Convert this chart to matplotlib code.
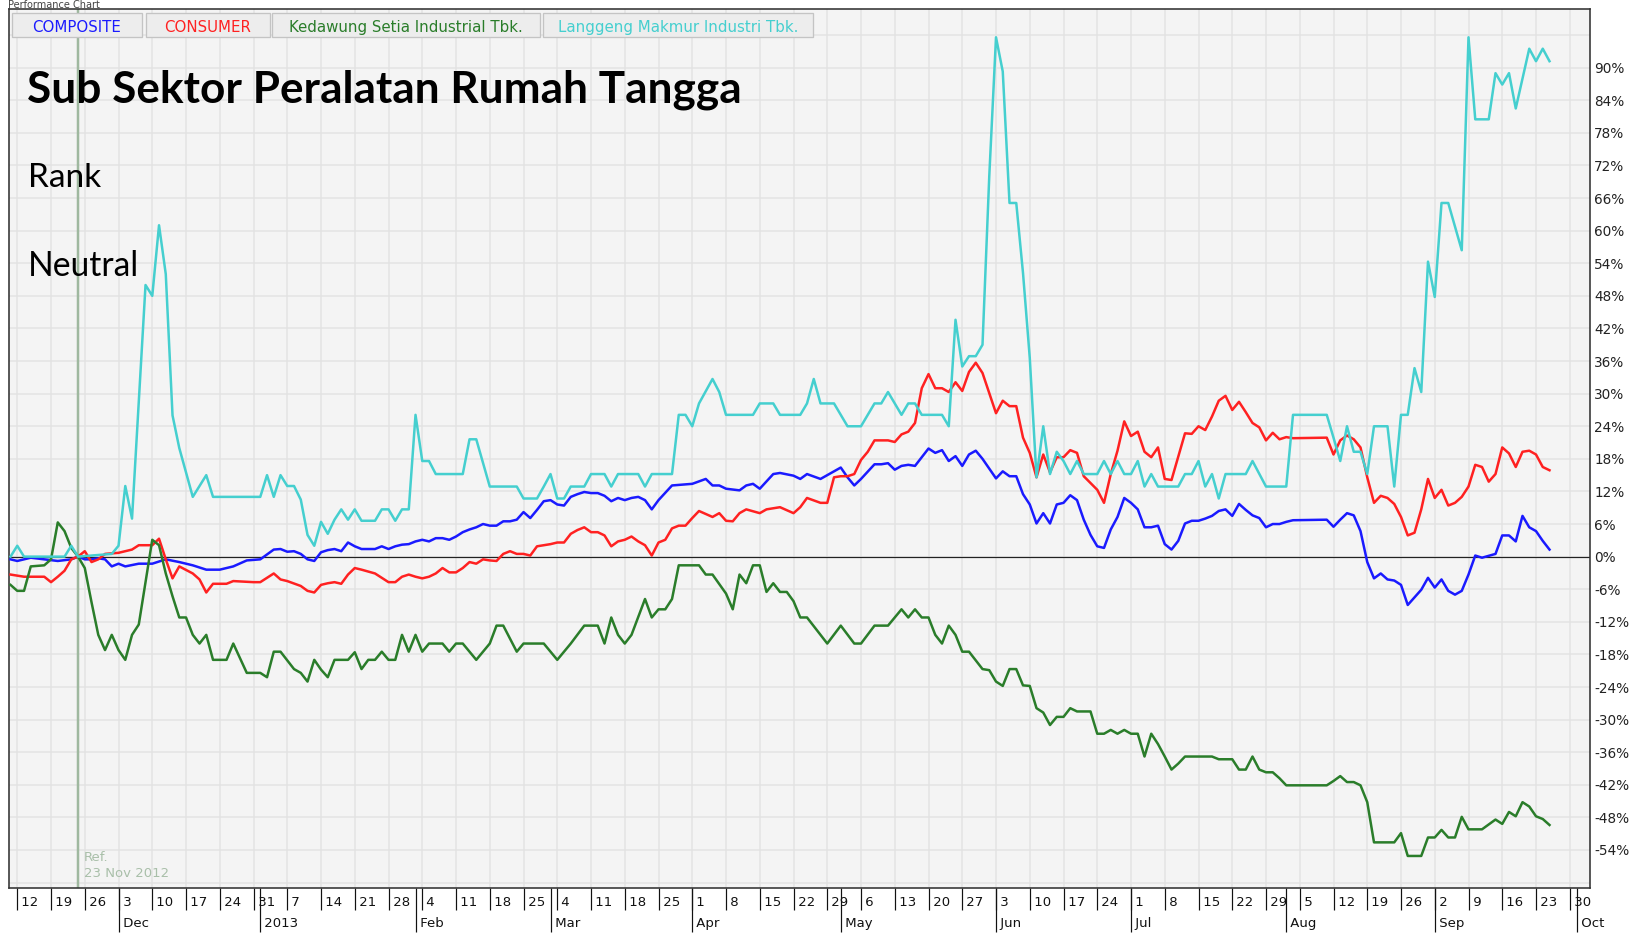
import numpy as np
import matplotlib
matplotlib.use("Agg")
import matplotlib.pyplot as plt
from matplotlib.patches import Rectangle

# ---------------- data (x = trading day since Mon 12 Nov 2012, y = % change) ----------------
START = "2012-11-12"
REF_DATE = "2012-11-23"

composite_day = [-1, 0, 2, 4, 6, 8, 9, 10, 11, 12, 13, 14, 15, 16, 18, 20, 22, 24, 26, 28, 30, 32, 34, 36,
                 38, 39, 40, 41, 42, 43, 44, 45, 46, 47, 48, 49, 50, 51, 53, 54, 55, 56, 57, 58, 59, 60, 61,
                 62, 63, 64, 65, 66, 67, 68, 69, 70, 71, 72, 73, 74, 75, 76, 77, 78, 79, 80, 81, 82, 83, 84,
                 85, 86, 87, 88, 89, 90, 91, 92, 93, 94, 95, 97, 100, 102, 103, 104, 105, 107, 108, 109, 110,
                 112, 113, 115, 116, 117, 119, 121, 122, 123, 124, 125, 127, 128, 129, 130, 131, 132, 133,
                 135, 136, 137, 138, 139, 140, 141, 142, 143, 145, 146, 147, 148, 149, 150, 151, 152, 153,
                 154, 155, 156, 157, 158, 159, 160, 161, 162, 163, 164, 165, 166, 167, 168, 169, 170, 171,
                 172, 173, 174, 175, 176, 177, 178, 179, 180, 181, 182, 183, 184, 185, 186, 187, 188, 189,
                 194, 195, 196, 197, 198, 199, 200, 201, 202, 203, 204, 205, 206, 207, 208, 209, 210, 211,
                 212, 213, 214, 215, 216, 217, 219, 220, 221, 222, 223, 224, 225, 226, 227]
composite_val = [-0.5, -0.8, -0.2, -0.5, -0.8, -0.5, 0.0, -0.5, -0.5, -0.3, -0.5, -1.8, -1.3, -1.8, -1.3, -1.3,
                 -0.5, -1.0, -1.6, -2.4, -2.4, -1.8, -0.7, -0.5,
                 1.3, 1.4, 0.9, 1.0, 0.5, -0.5, -0.8, 0.8, 1.2, 1.4, 1.0, 2.6, 1.9, 1.4, 1.4, 1.9, 1.4, 1.9,
                 2.2, 2.3, 2.8, 3.1, 2.8,
                 3.4, 3.4, 3.1, 3.7, 4.5, 5.0, 5.4, 6.0, 5.7, 5.7, 6.5, 6.5, 6.8, 8.2, 7.1, 8.6, 10.2, 10.4,
                 9.6, 9.4, 11.0, 11.5, 11.9,
                 11.7, 11.7, 11.2, 10.2, 10.8, 10.4, 10.8, 11.0, 10.4, 8.7, 10.4, 13.1, 13.4, 14.3, 13.1,
                 13.1, 12.5, 12.2, 13.1, 13.4, 12.5,
                 15.2, 15.4, 14.9, 14.3, 15.2, 14.3, 15.7, 16.4, 14.6, 13.1, 14.3, 17.0, 17.0, 17.2, 16.0,
                 16.7, 16.9, 16.7,
                 19.9, 19.1, 19.6, 17.6, 18.5, 16.7, 18.8, 19.5, 18.0, 14.4, 15.7, 14.8, 14.8, 11.5, 9.6,
                 6.1, 8.0, 6.1,
                 9.6, 9.9, 11.3, 10.4, 6.8, 4.0, 1.9, 1.6, 5.0, 7.3, 10.8, 9.9, 8.7, 5.4, 5.4, 5.7, 2.3, 1.3,
                 2.9, 6.1, 6.6, 6.6, 7.0, 7.5, 8.4, 8.7, 7.5, 9.7, 8.6, 7.6, 7.1, 5.4, 6.0, 6.0, 6.4, 6.7,
                 6.8, 5.5, 6.8, 8.0, 7.6, 4.7, -1.0, -4.0, -3.1, -4.2, -4.4, -5.2, -8.9, -7.5, -6.1, -3.9,
                 -5.7, -4.2,
                 -6.3, -7.0, -6.3, -3.3, 0.2, -0.2, 0.5, 3.9, 3.9, 2.8, 7.5, 5.4, 4.7, 2.9, 1.3]

consumer_day = [-1, 1, 4, 5, 6, 7, 8, 9, 10, 11, 12, 13, 15, 16, 17, 18, 20, 21, 22, 23, 24, 26, 27, 28, 29,
                31, 32, 35, 36, 38, 39, 40, 42, 43, 44, 45, 46, 47, 48, 49, 50, 51, 53, 54, 55, 56, 57, 58,
                59, 60, 61, 62, 63, 64, 65, 66, 67, 68, 69, 70, 71, 72, 73, 74, 75, 76, 77, 78, 79, 80, 81,
                82, 83, 84, 85, 86, 87, 88, 89, 90, 91, 92, 93, 94, 95, 96, 97, 98, 99, 100, 101, 103, 104,
                105, 106, 107, 108, 110, 111, 113, 115, 116, 117, 119, 120, 121, 122, 123, 124, 125, 126,
                127, 129, 130, 131, 132, 133, 134, 135, 136, 137, 138, 139, 140, 141, 142, 143, 145, 146,
                147, 148, 149, 150, 151, 152, 153, 154, 155, 156, 157, 158, 160, 161, 162, 163, 164, 165,
                166, 167, 168, 169, 170, 171, 173, 174, 175, 176, 177, 178, 179, 180, 181, 182, 183, 184,
                185, 186, 187, 188, 189, 194, 195, 196, 197, 198, 199, 200, 201, 202, 203, 204, 205, 206,
                207, 208, 209, 210, 211, 212, 213, 214, 215, 216, 217, 218, 219, 220, 221, 222, 223, 224,
                225, 226, 227]
consumer_val = [-3.3, -3.7, -3.7, -4.7, -3.7, -2.6, -0.5, 0.0, 1.0, -1.0, -0.5, 0.5, 0.7, 1.0, 1.3, 2.1, 2.1,
                3.3, -0.5, -4.0, -1.8, -3.1, -4.2, -6.6, -5.0,
                -5.0, -4.5, -4.7, -4.7, -3.1, -4.2, -4.5, -5.4, -6.3, -6.6, -5.2, -4.9, -4.7, -5.0, -3.3,
                -2.1, -2.4, -3.1, -3.9, -4.7, -4.7, -3.7, -3.3,
                -3.7, -4.0, -3.7, -3.1, -2.1, -2.9, -2.9, -2.1, -1.0, -1.3, -0.5, -0.7, -0.8, 0.5, 1.0, 0.5,
                0.5, 0.2, 1.9, 2.1, 2.3, 2.6, 2.6,
                4.2, 4.9, 5.4, 4.5, 4.5, 3.9, 1.9, 2.8, 3.1, 3.7, 2.8, 2.1, 0.2, 2.6, 3.1, 5.2, 5.7, 5.7,
                7.1, 8.4, 7.3, 8.0,
                6.6, 6.5, 8.0, 8.7, 8.0, 8.7, 9.1, 8.0, 9.1, 10.8, 9.9, 9.9, 14.6, 14.8, 14.8, 15.2, 17.8,
                19.3,
                21.4, 21.4, 21.1, 22.5, 23.0, 24.6, 31.0, 33.6, 31.0, 31.0, 30.3, 32.1, 30.5, 34.0, 35.7,
                33.8, 26.4, 28.7,
                27.7, 27.7, 21.9, 19.1, 14.6, 18.8, 15.5, 18.3, 18.3, 19.6, 19.1, 14.8, 12.3, 9.9, 15.2,
                19.5, 24.9, 22.2,
                23.0, 19.3, 18.3, 20.1, 14.3, 14.1, 22.7, 22.6, 24.0, 23.3, 25.8, 28.7, 29.6, 27.0, 28.5,
                26.6, 24.6, 23.8,
                21.4, 22.8, 21.6, 22.0, 21.8, 21.9, 18.8, 21.4, 22.3, 21.6, 20.1, 14.6, 9.9, 11.2, 10.8,
                9.7, 7.3, 3.9,
                4.4, 8.7, 14.3, 10.8, 12.3, 9.4, 9.9, 11.0, 12.9, 16.9, 16.5, 13.8, 15.2, 20.1, 19.0, 16.5,
                19.3, 19.5,
                18.8, 16.5, 15.9]

kdsi_day = [-1, 0, 1, 2, 4, 5, 6, 7, 8, 9, 10, 11, 12, 13, 14, 15, 16, 17, 18, 20, 21, 22, 23, 24, 25, 26,
            27, 28, 29, 31, 32, 34, 36, 37, 38, 39, 41, 42, 43, 44, 45, 46, 47, 49, 50, 51, 52, 53, 54, 55,
            56, 57, 58, 59, 60, 61, 63, 64, 65, 66, 68, 70, 71, 72, 74, 75, 78, 80, 82, 84, 86, 87, 88, 89,
            90, 91, 93, 94, 95, 96, 97, 98, 101, 102, 103, 105, 106, 107, 108, 109, 110, 111, 112, 113,
            114, 115, 116, 117, 120, 122, 124, 125, 127, 129, 131, 132, 133, 134, 135, 136, 137, 138, 139,
            140, 141, 143, 144, 145, 146, 147, 148, 149, 150, 151, 152, 153, 154, 155, 156, 157, 159, 160,
            161, 162, 163, 164, 165, 166, 167, 168, 169, 170, 171, 172, 173, 177, 178, 180, 181, 182, 183,
            184, 185, 186, 187, 188, 194, 195, 196, 197, 198, 199, 200, 201, 204, 205, 206, 208, 209, 210,
            211, 212, 213, 214, 215, 217, 219, 220, 221, 222, 223, 224, 225, 226, 227]
kdsi_val = [-5.2, -6.3, -6.3, -1.8, -1.6, -0.5, 6.3, 4.7, 1.6, 0.0, -2.1, -8.4, -14.4, -17.2, -14.4, -17.2,
            -19.0, -14.4, -12.5, 3.1, 2.1, -3.1, -7.3, -11.2, -11.2, -14.4,
            -16.0, -14.4, -19.0, -19.0, -16.0, -21.4, -21.4, -22.2, -17.5, -17.5, -20.7, -21.4, -23.0,
            -19.0, -20.8, -22.2, -19.0, -19.0, -17.6, -20.7, -19.0, -19.0, -17.5, -19.0,
            -19.0, -14.4, -17.5, -14.4, -17.5, -16.0, -16.0, -17.5, -16.0, -16.0, -19.0, -16.0, -12.7,
            -12.7, -17.5, -16.0, -16.0, -19.0, -16.0, -12.7, -12.7, -16.0, -11.2, -14.4,
            -16.0, -14.4, -7.8, -11.2, -9.7, -9.7, -7.8, -1.6, -1.6, -3.3, -3.3, -6.8, -9.7, -3.3, -4.9,
            -1.6, -1.6, -6.5, -4.9, -6.5,
            -6.5, -8.2, -11.2, -11.2, -16.0, -12.7, -16.0, -16.0, -12.7, -12.7, -9.7, -11.2, -9.7, -11.2,
            -11.2, -14.4, -16.0, -12.7, -14.4,
            -17.5, -17.5, -20.7, -20.9, -23.0, -23.8, -20.7, -20.7, -23.7, -23.8, -27.9, -28.7, -31.0,
            -29.5, -29.5, -27.9, -28.5, -28.5, -32.6,
            -32.6, -31.9, -32.6, -31.9, -32.6, -32.6, -36.8, -32.6, -34.5, -36.8, -39.2, -38.1, -36.8,
            -36.8, -37.3, -37.3, -39.2, -39.2, -36.8,
            -39.2, -39.7, -39.7, -40.8, -42.1, -42.1, -41.3, -40.4, -41.5, -41.5, -42.1, -45.2, -52.6,
            -52.6, -50.9, -55.1, -55.1, -51.7, -51.7,
            -50.3, -51.7, -51.7, -47.9, -50.2, -50.2, -48.4, -49.2, -47.0, -47.8, -45.2, -46.0, -47.8,
            -48.3, -49.4]

lmsh_day = [-1, 0, 1, 7, 8, 9, 14, 15, 16, 17, 19, 20, 21, 22, 23, 24, 26, 28, 29, 36, 37, 38, 39, 40, 41,
            42, 43, 44, 45, 46, 47, 48, 49, 50, 51, 53, 54, 55, 56, 57, 58, 59, 60, 61, 62, 66, 67, 68, 70,
            74, 75, 77, 78, 79, 80, 81, 82, 84, 85, 87, 88, 89, 92, 93, 94, 97, 98, 99, 100, 101, 103, 104,
            105, 109, 110, 112, 113, 116, 117, 118, 119, 121, 122, 123, 125, 126, 127, 128, 129, 131, 132,
            133, 134, 137, 138, 139, 140, 141, 142, 143, 144, 145, 146, 147, 148, 149, 150, 151, 152, 153,
            154, 155, 156, 157, 158, 160, 161, 162, 163, 164, 165, 166, 167, 168, 169, 172, 173, 174, 175,
            176, 177, 178, 179, 182, 183, 185, 188, 189, 194, 195, 196, 197, 198, 199, 200, 201, 203, 204,
            205, 206, 207, 208, 209, 210, 211, 212, 214, 215, 216, 218, 219, 220, 221, 222, 223, 224, 225,
            226, 227]
lmsh_val = [0.0, 2.0, 0.0, 0.0, 2.0, 0.0, 0.5, 2.0, 13.0, 7.0, 50.0, 48.0, 61.0, 52.0, 26.0, 20.0, 11.0, 15.0,
            11.0, 11.0, 15.0, 11.0, 15.0, 13.0, 13.0,
            10.5, 4.0, 2.0, 6.4, 4.2, 6.8, 8.7, 6.8, 8.7, 6.6, 6.6, 8.7, 8.7, 6.6, 8.7, 8.7, 26.1, 17.6,
            17.6, 15.2, 15.2, 21.6, 21.6, 12.9,
            12.9, 10.7, 10.7, 12.9, 15.2, 10.7, 10.7, 12.9, 12.9, 15.2, 15.2, 12.9, 15.2, 15.2, 12.9, 15.2,
            15.2, 26.1, 26.1, 24.0, 28.2, 32.7, 30.3,
            26.1, 26.1, 28.2, 28.2, 26.1, 26.1, 28.2, 32.7, 28.2, 28.2, 26.1, 24.0, 24.0, 26.1, 28.2, 28.2,
            30.3, 26.1, 28.2,
            28.2, 26.1, 26.1, 24.0, 43.6, 35.0, 36.9, 36.9, 39.0, 70.0, 95.6, 89.3, 65.1, 65.1, 52.2, 36.6,
            14.6, 24.0, 15.2,
            19.3, 17.6, 15.2, 17.6, 15.2, 15.2, 17.6, 15.2, 17.6, 15.2, 15.2, 17.6, 12.9, 15.2, 12.9, 12.9,
            15.2, 15.2, 17.6,
            12.9, 15.2, 10.7, 15.2, 15.2, 17.6, 12.9, 12.9, 26.1, 26.1, 21.9, 17.6, 24.0, 19.3, 19.3, 15.2,
            24.0, 24.0, 12.9,
            26.1, 26.1, 34.7, 30.3, 54.3, 47.8, 65.1, 65.1, 56.4, 95.6, 80.5, 80.5, 89.0, 86.9, 89.0, 82.5,
            88.0, 93.5, 91.2,
            93.5, 91.2]

series_names = ["COMPOSITE", "CONSUMER", "Kedawung Setia Industrial Tbk.", "Langgeng Makmur Industri Tbk."]
series_colors = ["#1a1aff", "#ff2121", "#2a7d2a", "#45cfcf"]

month_starts = ["2012-12-01", "2013-01-01", "2013-02-01", "2013-03-01", "2013-04-01", "2013-05-01",
                "2013-06-01", "2013-07-01", "2013-08-01", "2013-09-01", "2013-10-01"]
month_labels = ["Dec", "2013", "Feb", "Mar", "Apr", "May", "Jun", "Jul", "Aug", "Sep", "Oct"]
y_ticks = list(range(-60, 97, 6))

# ---------------- figure ----------------
W, H, DPI = 1632, 935, 100
fig = plt.figure(figsize=(W / DPI, H / DPI), dpi=DPI, facecolor="white")
px = 72.0 / DPI  # points per pixel

L, R, T, B = 8.5, 1590, 8.5, 888
ax = fig.add_axes([L / W, 1 - B / H, (R - L) / W, (B - T) / H])
ax.set_facecolor("#f4f4f4")

series = [(composite_day, composite_val), (consumer_day, consumer_val),
          (kdsi_day, kdsi_val), (lmsh_day, lmsh_val)]
for (d, v), c in zip(series, series_colors):
    ax.plot(d, v, color=c, lw=2.5 * px, solid_joinstyle="round", zorder=3)

ax.axhline(0, color="#222222", lw=1.2 * px, zorder=2.5)
ref_x = int(np.busday_count(START, REF_DATE))
ax.axvline(ref_x, color="#9fb89f", lw=2.5 * px, zorder=2)
ax.text(ref_x + 0.9, -55.3, "Ref.", color="#a9bfa9", fontsize=9.5, va="center", ha="left",
        family="DejaVu Sans")
ax.text(ref_x + 0.9, -58.4, "23 Nov 2012", color="#a9bfa9", fontsize=9.5, va="center", ha="left",
        family="DejaVu Sans")

ax.set_xlim(-1.3, 233.0)
ax.set_ylim(-61.0, 100.9)

# x ticks: Mondays (weekly) + month starts
mondays = np.arange(np.datetime64(START), np.datetime64("2013-10-01"), 7)
mon_pos = [int(np.busday_count(START, d)) for d in mondays]
mon_lab = [" " + str(int((d - d.astype("datetime64[M]")).astype(int)) + 1) for d in mondays]
m_pos = [int(np.busday_count(START, np.busday_offset(m, 0, roll="forward"))) for m in month_starts]
m_lab = [" " + s for s in month_labels]

ax.xaxis.remove_overlapping_locs = False
tick_font = ["Liberation Sans Narrow", "DejaVu Sans"]
ax.set_xticks(mon_pos, labels=mon_lab, ha="left", va="center", fontsize=9.5, family=tick_font)
ax.set_xticks(m_pos, labels=m_lab, minor=True, ha="left", va="center", fontsize=9.5, family=tick_font)
ax.tick_params(axis="x", which="major", direction="out", length=22 * px, width=1.2 * px,
               color="#111111", pad=-5.7, labelcolor="#111111")
ax.tick_params(axis="x", which="minor", direction="out", length=44 * px, width=1.2 * px,
               color="#111111", pad=-5.8, labelcolor="#111111")

ax.yaxis.tick_right()
ax.set_yticks(y_ticks, labels=["" if (t < -54 or t > 90) else f"{t}%" for t in y_ticks],
              fontsize=9.8, family="DejaVu Sans")
ax.tick_params(axis="y", length=0, pad=3, labelcolor="#222222")

ax.grid(True, which="major", color="#e3e3e3", lw=1.5 * px, zorder=0)
ax.set_axisbelow(True)
for s in ax.spines.values():
    s.set_color("#333333")
    s.set_linewidth(1.6 * px)

# legend buttons
boxes = [(11.5, 142), (145.5, 269.5), (272, 540), (543, 813)]
by0, by1 = 12.7, 37.3
for (x0, x1), name, c in zip(boxes, series_names, series_colors):
    fig.add_artist(Rectangle((x0 / W, 1 - by1 / H), (x1 - x0) / W, (by1 - by0) / H,
                             transform=fig.transFigure, facecolor="#ededed", edgecolor="#c4c4c4",
                             lw=1.3 * px, zorder=5))
    fig.text((x0 + x1) / 2 / W, 1 - (by0 + by1 + 1.5) / 2 / H, name, color=c, ha="center",
             va="center_baseline", fontsize=10.8, family="DejaVu Sans", zorder=6)

# overlay annotations (auto-fit to measured widths)
renderer = fig.canvas.get_renderer()
def fit_text(x, baseline, s, width, weight):
    t = fig.text(x / W, 1 - baseline / H, s, ha="left", va="baseline", fontsize=30,
                 family=["Lato", "DejaVu Sans"], fontweight=weight, color="black", zorder=7)
    w = t.get_window_extent(renderer).width
    t.set_fontsize(30 * width / w)
    return t

fit_text(27, 102, "Sub Sektor Peralatan Rumah Tangga", 713, "bold")
fit_text(28, 187, "Rank", 73, "normal")
fit_text(28, 276, "Neutral", 111, "normal")

# caption above the chart (kept inside the top margin)
fig.text(8 / W, 1 - 7.5 / H, "Performance Chart", ha="left", va="baseline", fontsize=7,
         color="#444444", family="DejaVu Sans")

fig.savefig("out.png", dpi=DPI, facecolor="white")
